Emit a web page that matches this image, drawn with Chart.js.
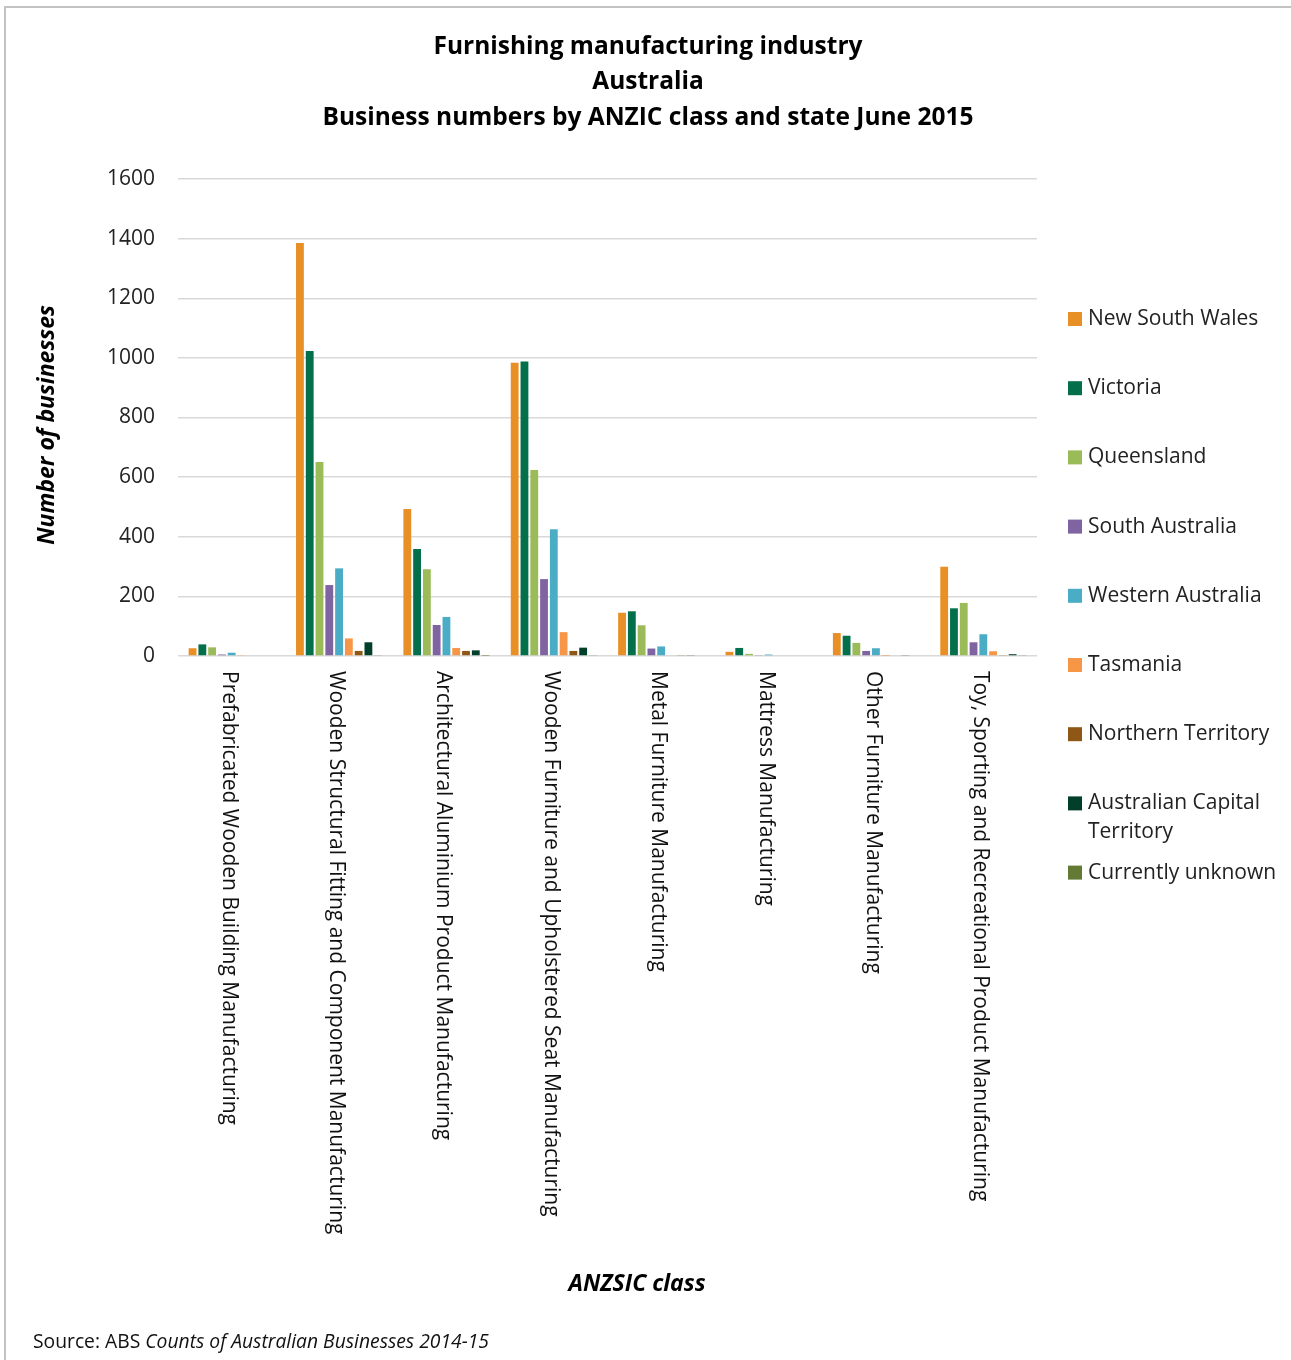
<!DOCTYPE html>
<html>
<head>
<meta charset="utf-8">
<script src="https://cdn.jsdelivr.net/npm/chart.js@4/dist/chart.umd.min.js"></script>
<style>
  html, body { margin: 0; padding: 0; background: #fff; }
  canvas { display: block; }
</style>
</head>
<body>
<canvas id="chart" width="1291" height="1360"></canvas>
<script>
// ANZSIC classes on the x axis
const categories = [
  "Prefabricated Wooden Building Manufacturing",
  "Wooden Structural Fitting and Component Manufacturing",
  "Architectural Aluminium Product Manufacturing",
  "Wooden Furniture and Upholstered Seat Manufacturing",
  "Metal Furniture Manufacturing",
  "Mattress Manufacturing",
  "Other Furniture Manufacturing",
  "Toy, Sporting and Recreational Product Manufacturing"
];

// Business counts per state, in category order
const newSouthWales     = [26, 1385, 493, 984, 145, 14, 77, 299];
const victoria          = [39, 1023, 359, 988, 150, 27, 68, 160];
const queensland        = [29, 651, 291, 624, 103, 7, 44, 178];
const southAustralia    = [5, 238, 104, 258, 25, 3, 17, 46];
const westernAustralia  = [11, 294, 131, 425, 32, 5, 26, 73];
const tasmania          = [2, 59, 27, 80, 0, 0, 1, 16];
const northernTerritory = [0, 17, 17, 17, 2, 0, 0, 2];
const capitalTerritory  = [0, 46, 19, 28, 2, 0, 2, 6];
const currentlyUnknown  = [0, 3, 1, 2, 0, 0, 0, 2];

// Y axis range and tick step
const yMin = 0, yMax = 1600, yStep = 200;

const seriesNames = [
  "New South Wales", "Victoria", "Queensland", "South Australia",
  "Western Australia", "Tasmania", "Northern Territory",
  ["Australian Capital", "Territory"], "Currently unknown"
];
const seriesValues = [
  newSouthWales, victoria, queensland, southAustralia, westernAustralia,
  tasmania, northernTerritory, capitalTerritory, currentlyUnknown
];
const seriesColors = [
  "#E88F26", "#04704B", "#9BBB59", "#8064A2", "#4BACC6",
  "#F79646", "#8E5716", "#023F2B", "#637A35"
];

const FONT = "'Open Sans', Lato, sans-serif";
const titleLines = [
  "Furnishing manufacturing industry",
  "Australia",
  "Business numbers by ANZIC class and state June 2015"
];

const decorations = {
  id: "decorations",
  beforeDraw(chart) {
    const ctx = chart.ctx;
    ctx.save();
    ctx.fillStyle = "#fff";
    ctx.fillRect(0, 0, chart.width, chart.height);
    // frame
    ctx.strokeStyle = "#c3c3c3";
    ctx.lineWidth = 2;
    ctx.strokeRect(5, 7, chart.width + 20, chart.height + 20);
    ctx.restore();
  },
  afterDraw(chart) {
    const ctx = chart.ctx;
    const area = chart.chartArea;
    const xs = chart.scales.x;
    ctx.save();

    // title
    ctx.fillStyle = "#000";
    ctx.textAlign = "center";
    ctx.textBaseline = "middle";
    ctx.font = "bold 24.5px " + FONT;
    titleLines.forEach((t, i) => ctx.fillText(t, 648, 47 + i * 35.5));

    // rotated category labels, reading top to bottom
    ctx.font = "21px " + FONT;
    ctx.fillStyle = "#111";
    categories.forEach((c, i) => {
      const x = xs.getPixelForValue(i);
      ctx.save();
      ctx.translate(x, area.bottom + 15);
      ctx.rotate(Math.PI / 2);
      ctx.textAlign = "left";
      ctx.textBaseline = "middle";
      ctx.fillText(c, 0, 3);
      ctx.restore();
    });

    // axis titles
    ctx.font = "italic bold 23px " + FONT;
    ctx.fillStyle = "#000";
    ctx.textAlign = "center";
    ctx.textBaseline = "middle";
    ctx.fillText("ANZSIC class", 637, 1284);
    ctx.save();
    ctx.translate(47, 425);
    ctx.rotate(-Math.PI / 2);
    ctx.fillText("Number of businesses", 0, 0);
    ctx.restore();

    // legend
    ctx.textAlign = "left";
    ctx.textBaseline = "middle";
    ctx.font = "21px " + FONT;
    chart.data.datasets.forEach((ds, i) => {
      const y = 319 + i * 69.2;
      ctx.fillStyle = ds.backgroundColor;
      ctx.fillRect(1068, y - 7, 14, 14);
      ctx.fillStyle = "#222";
      const lines = Array.isArray(seriesNames[i]) ? seriesNames[i] : [seriesNames[i]];
      lines.forEach((l, j) => ctx.fillText(l, 1088, y + j * 29));
    });

    // source note
    ctx.font = "19.3px " + FONT;
    ctx.fillStyle = "#111";
    ctx.textBaseline = "middle";
    const pre = "Source: ABS ";
    ctx.fillText(pre, 33, 1343);
    const w = ctx.measureText(pre).width;
    ctx.font = "italic 19.3px " + FONT;
    ctx.fillText("Counts of Australian Businesses 2014-15", 33 + w, 1343);

    ctx.restore();
  }
};

new Chart(document.getElementById("chart"), {
  type: "bar",
  data: {
    labels: categories,
    datasets: seriesValues.map((vals, i) => ({
      label: Array.isArray(seriesNames[i]) ? seriesNames[i].join(" ") : seriesNames[i],
      data: vals,
      backgroundColor: seriesColors[i],
      borderWidth: 0,
      categoryPercentage: 0.82,
      barPercentage: 0.8
    }))
  },
  options: {
    responsive: false,
    devicePixelRatio: 1,
    animation: false,
    layout: { padding: { left: 108, top: 179, right: 254, bottom: 704 } },
    plugins: {
      legend: { display: false },
      title: { display: false },
      tooltip: { enabled: false }
    },
    scales: {
      x: {
        grid: { display: false },
        border: { display: false },
        ticks: { display: false },
        afterFit(scale) { scale.height = 0; }
      },
      y: {
        min: yMin,
        max: yMax,
        ticks: {
          stepSize: yStep,
          padding: 23,
          color: "#222",
          font: { family: FONT, size: 21 },
          callback: (v) => String(v)
        },
        grid: { color: "#d9d9d9", lineWidth: 1.5, drawTicks: false },
        border: { display: false },
        afterFit(scale) { scale.width = 70; }
      }
    }
  },
  plugins: [decorations]
});
</script>
</body>
</html>
